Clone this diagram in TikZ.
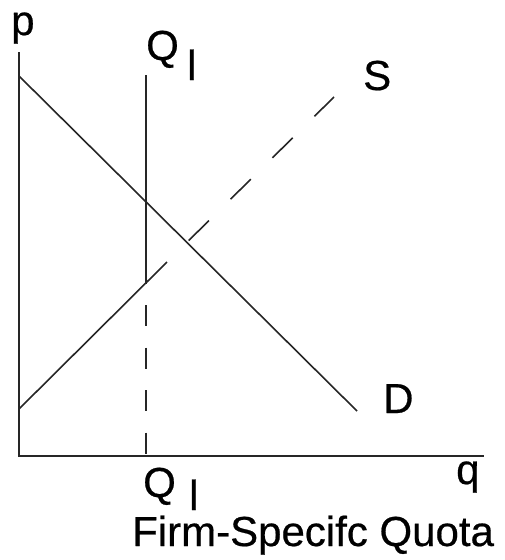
\documentclass[tikz,border=0pt]{standalone}
\usepackage{fontspec}
\setmainfont{Liberation Sans}
\newfontfamily\lblfont[FakeBold=0.5]{Liberation Sans}
\begin{document}
\begin{tikzpicture}[x=1pt,y=-1pt,
  curve/.style={line width=1.6pt,black!85},
  lbl/.style={inner sep=0pt,anchor=base west,font=\lblfont\fontsize{42}{48}\selectfont}]
\useasboundingbox (0,0) rectangle (505,560);
% axes
\coordinate (O) at (19,456);
\coordinate (ytop) at (19,52);
\coordinate (xend) at (484,456);
\draw[curve] (ytop) -- (O) -- (xend);
% demand
\coordinate (d1) at (19,76);
\coordinate (d2) at (357,411);
\draw[curve] (d1) -- (d2);
% supply
\coordinate (s1) at (19,409);
\coordinate (s2) at (167,262);
\coordinate (s3) at (334,97);
\draw[curve] (s1) -- (s2);
\draw[curve,dash pattern=on 28.4pt off 30.5pt,dash phase=28.4pt] (s2) -- (s3);
% quota line
\coordinate (q1) at (146,75);
\coordinate (q2) at (146,283.5);
\coordinate (q3) at (146,456);
\draw[curve] (q1) -- (q2);
\draw[curve,dash pattern=on 21pt off 21.5pt,dash phase=21pt] (q2) -- (q3);
% labels
\node[lbl] (p) at (11,35) {p};
\node[lbl] (Qt) at (146,60) {Q};
\node[lbl] (lt) at (187,80) {l};
\node[lbl] (S) at (363,90) {S};
\node[lbl] (D) at (383,413) {D};
\node[lbl] (q) at (456,484) {q};
\node[lbl] (Qb) at (143,497) {Q};
\node[lbl,text depth=0pt,text height=28pt] (lb) at (189,510) {l};
\node[lbl,text height=30pt] (title) at (132,546) {Firm-Specifc Quota};
\end{tikzpicture}
\end{document}
